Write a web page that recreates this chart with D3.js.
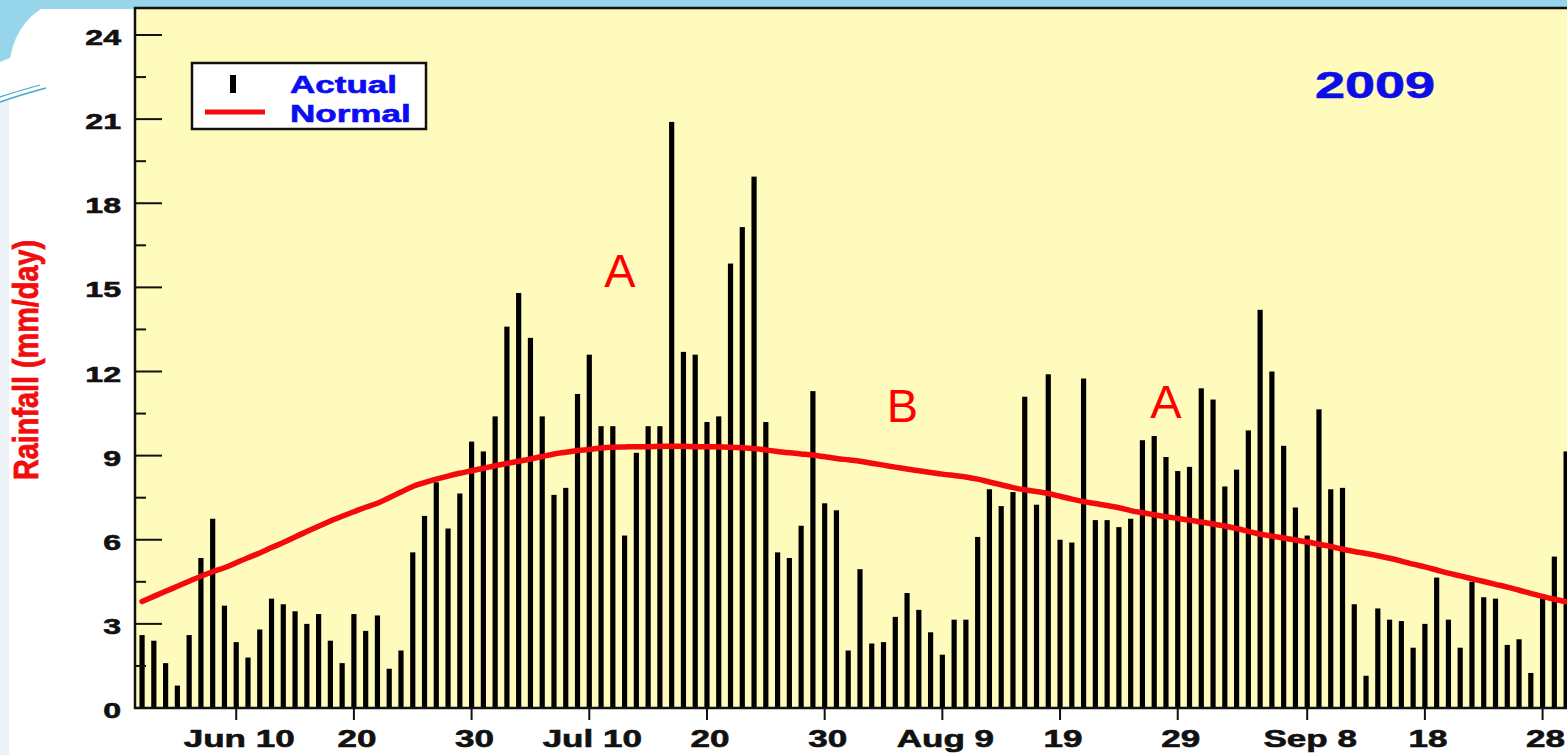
<!DOCTYPE html>
<html>
<head>
<meta charset="utf-8">
<script src="https://cdn.jsdelivr.net/npm/d3@7/dist/d3.min.js"></script>
<style>
  html, body { margin: 0; padding: 0; background: #fff; }
  svg { display: block; }
  text { font-family: "Liberation Sans", Arial, sans-serif; }
  .bold { font-weight: bold; stroke-width: 0.6; }
</style>
</head>
<body>
<svg id="chart" width="1567" height="755"></svg>
<script>
// Daily rainfall (mm/day), one value per day from 1 Jun to 30 Sep 2009.
const actual = [
  2.6, 2.4, 1.6, 0.8, 2.6, 5.35, 6.75, 3.65, 2.35, 1.8,
  2.8, 3.9, 3.7, 3.45, 3.0, 3.35, 2.4, 1.6, 3.35, 2.75,
  3.3, 1.4, 2.05, 5.55, 6.85, 8.05, 6.4, 7.65, 9.5, 9.15,
  10.4, 13.6, 14.8, 13.2, 10.4, 7.6, 7.85, 11.2, 12.6, 10.05,
  10.05, 6.15, 9.1, 10.05, 10.05, 20.9, 12.7, 12.6, 10.2, 10.4,
  15.85, 17.15, 18.95, 10.2, 5.55, 5.35, 6.5, 11.3, 7.3, 7.05,
  2.05, 4.95, 2.3, 2.35, 3.25, 4.1, 3.5, 2.7, 1.9, 3.15,
  3.15, 6.1, 7.8, 7.2, 7.7, 11.1, 7.25, 11.9, 6.0, 5.9,
  11.75, 6.7, 6.7, 6.45, 6.75, 9.55, 9.7, 8.95, 8.45, 8.6,
  11.4, 11.0, 7.9, 8.5, 9.9, 14.2, 12.0, 9.35, 7.15, 6.15,
  10.65, 7.8, 7.85, 3.7, 1.15, 3.55, 3.15, 3.1, 2.15, 3.0,
  4.65, 3.15, 2.15, 4.5, 3.95, 3.9, 2.25, 2.45, 1.25, 3.9,
  5.4, 9.15,
];

// Normal (climatological) rainfall for the same days.
const normal = [
  3.8, 3.98, 4.16, 4.34, 4.52, 4.7, 4.86, 5.0, 5.18, 5.36,
  5.53, 5.72, 5.9, 6.1, 6.29, 6.48, 6.67, 6.84, 7.0, 7.16,
  7.3, 7.5, 7.7, 7.9, 8.04, 8.16, 8.27, 8.37, 8.46, 8.55,
  8.64, 8.72, 8.8, 8.88, 8.97, 9.06, 9.12, 9.18, 9.22, 9.27,
  9.3, 9.31, 9.32, 9.32, 9.33, 9.33, 9.33, 9.32, 9.32, 9.31,
  9.3, 9.28, 9.25, 9.2, 9.15, 9.1, 9.06, 9.02, 8.96, 8.9,
  8.85, 8.8, 8.73, 8.66, 8.59, 8.52, 8.46, 8.4, 8.34, 8.29,
  8.24, 8.16, 8.06, 7.96, 7.86, 7.78, 7.72, 7.65, 7.55, 7.45,
  7.36, 7.29, 7.22, 7.14, 7.04, 6.96, 6.89, 6.82, 6.76, 6.7,
  6.63, 6.56, 6.49, 6.4, 6.3, 6.2, 6.13, 6.06, 5.99, 5.92,
  5.84, 5.76, 5.66, 5.58, 5.51, 5.43, 5.34, 5.24, 5.13, 5.03,
  4.92, 4.81, 4.71, 4.61, 4.51, 4.41, 4.31, 4.2, 4.09, 3.98,
  3.88, 3.79,
];

// X tick positions (day index from 1 Jun) and their labels, as printed.
const tickDays = [8, 18, 28, 38, 48, 58, 68, 78, 88, 99, 109, 119];
const tickLabels = ['Jun 10', '20', '30', 'Jul 10', '20', '30', 'Aug 9', '19', '29', 'Sep 8', '18', '28'];
const yTicks = [0, 3, 6, 9, 12, 15, 18, 21, 24];

// Hand-written letters placed over the chart (day index, value).
const notes = [
  { text: 'A', day: 40.6, value: 15.0 },
  { text: 'B', day: 64.6, value: 10.2 },
  { text: 'A', day: 87.0, value: 10.35 },
];

const W = 1567, H = 755;
const plot = { left: 135, top: 8, bottom: 708, right: 1600 };
const SX = 1.46;   // the source image is stretched horizontally
const svg = d3.select('#chart');

const x = d3.scaleLinear().domain([-0.6, 121.5]).range([plot.left, 1572]);
const y = d3.scaleLinear().domain([0, 24]).range([plot.bottom, 35]);

// Slide template decoration.
svg.append('rect').attr('width', W).attr('height', H).attr('fill', '#fff');
svg.append('rect').attr('x', 0).attr('y', 100).attr('width', 9).attr('height', H - 100).attr('fill', '#edf2f6');
svg.append('rect').attr('width', W).attr('height', 9).attr('fill', '#97d5ea');
svg.append('path').attr('d', 'M0,0 H60 Q18,14 10,58 L0,62 Z').attr('fill', '#97d5ea');
svg.append('path').attr('d', 'M0,102 Q20,95 46,88').attr('fill', 'none').attr('stroke', '#3fa9d2').attr('stroke-width', 1.6);
svg.append('path').attr('d', 'M0,97 Q18,91 40,85').attr('fill', 'none').attr('stroke', '#3fa9d2').attr('stroke-width', 1.2);

// Plot background.
svg.append('rect')
    .attr('x', plot.left).attr('y', plot.top)
    .attr('width', plot.right - plot.left).attr('height', plot.bottom - plot.top)
    .attr('fill', '#fffbbc');

svg.append('clipPath').attr('id', 'clip')
  .append('rect')
    .attr('x', plot.left).attr('y', plot.top)
    .attr('width', plot.right - plot.left).attr('height', plot.bottom - plot.top);

const draw = svg.append('g').attr('clip-path', 'url(#clip)');

// Actual rainfall bars.
const barW = 5.2;
draw.selectAll('.bar').data(actual).enter().append('rect')
    .attr('class', 'bar')
    .attr('x', (d, i) => x(i) - barW / 2)
    .attr('y', (d) => y(d))
    .attr('width', barW)
    .attr('height', (d) => y(0) - y(d))
    .attr('fill', '#000');

// Normal curve.
const line = d3.line().x((d, i) => x(i)).y((d) => y(d)).curve(d3.curveMonotoneX);
draw.append('path')
    .datum(normal)
    .attr('d', line)
    .attr('fill', 'none')
    .attr('stroke', '#f40a0a')
    .attr('stroke-width', 5.5)
    .attr('stroke-linecap', 'round');

// Frame: left, top and bottom lines.
svg.append('path')
    .attr('d', `M${plot.right},${plot.top} H${plot.left} V${plot.bottom} H${plot.right}`)
    .attr('fill', 'none').attr('stroke', '#111').attr('stroke-width', 2.5);

// Y axis: major ticks pointing in, minor ticks halfway.
const yAxis = svg.append('g');
yAxis.selectAll('.major').data(yTicks).enter().append('line')
    .attr('x1', plot.left).attr('x2', plot.left + 27)
    .attr('y1', (d) => y(d)).attr('y2', (d) => y(d))
    .attr('stroke', '#111').attr('stroke-width', 2);
yAxis.selectAll('.minor').data(yTicks.slice(1).map((d) => d - 1.5)).enter().append('line')
    .attr('x1', plot.left).attr('x2', plot.left + 11)
    .attr('y1', (d) => y(d)).attr('y2', (d) => y(d))
    .attr('stroke', '#111').attr('stroke-width', 2);
yAxis.selectAll('text').data(yTicks).enter().append('text')
    .attr('class', 'bold')
    .attr('transform', (d) => `translate(121,${y(d) + 10}) scale(${SX},1)`)
    .attr('text-anchor', 'end')
    .attr('font-size', 22).attr('fill', '#111').attr('stroke', '#111')
    .text((d) => d);

// X axis: ticks below the baseline.
const xAxis = svg.append('g');
xAxis.selectAll('line').data(tickDays).enter().append('line')
    .attr('x1', (d) => x(d)).attr('x2', (d) => x(d))
    .attr('y1', plot.bottom).attr('y2', plot.bottom + 12)
    .attr('stroke', '#111').attr('stroke-width', 2);
xAxis.selectAll('text').data(tickDays).enter().append('text')
    .attr('class', 'bold')
    .attr('transform', (d) => `translate(${x(d) + 3},747) scale(${SX},1)`)
    .attr('text-anchor', 'middle')
    .attr('font-size', 24).attr('fill', '#111').attr('stroke', '#111')
    .text((d, i) => tickLabels[i]);

// Y axis title.
svg.append('text')
    .attr('class', 'bold')
    .attr('transform', 'translate(38,360) scale(1.3,1) rotate(-90)')
    .attr('text-anchor', 'middle')
    .attr('font-size', 27).attr('fill', '#f20c0c').attr('stroke', '#f20c0c')
    .attr('textLength', 240).attr('lengthAdjust', 'spacingAndGlyphs')
    .text('Rainfall (mm/day)');

// Legend.
const legend = svg.append('g');
legend.append('rect')
    .attr('x', 192).attr('y', 63).attr('width', 234).attr('height', 66)
    .attr('fill', '#fff').attr('stroke', '#111').attr('stroke-width', 2.5);
legend.append('rect')
    .attr('x', 230).attr('y', 75).attr('width', 6).attr('height', 18).attr('fill', '#000');
legend.append('line')
    .attr('x1', 205).attr('x2', 265).attr('y1', 112).attr('y2', 112)
    .attr('stroke', '#f40a0a').attr('stroke-width', 5);
legend.selectAll('text').data(['Actual', 'Normal']).enter().append('text')
    .attr('class', 'bold')
    .attr('transform', (d, i) => `translate(290,${93 + i * 29}) scale(${SX},1)`)
    .attr('font-size', 24).attr('fill', '#0d0df2').attr('stroke', '#0d0df2')
    .text((d) => d);

// Year label.
svg.append('text')
    .attr('class', 'bold')
    .attr('transform', `translate(1375,98) scale(${SX},1)`)
    .attr('text-anchor', 'middle')
    .attr('font-size', 37).attr('fill', '#0d0de8').attr('stroke', '#0d0de8')
    .text('2009');

// Annotations.
svg.selectAll('.note').data(notes).enter().append('text')
    .attr('class', 'note')
    .attr('x', (d) => x(d.day)).attr('y', (d) => y(d.value))
    .attr('text-anchor', 'middle')
    .attr('font-size', 47).attr('fill', '#ff0000')
    .text((d) => d.text);
</script>
</body>
</html>
